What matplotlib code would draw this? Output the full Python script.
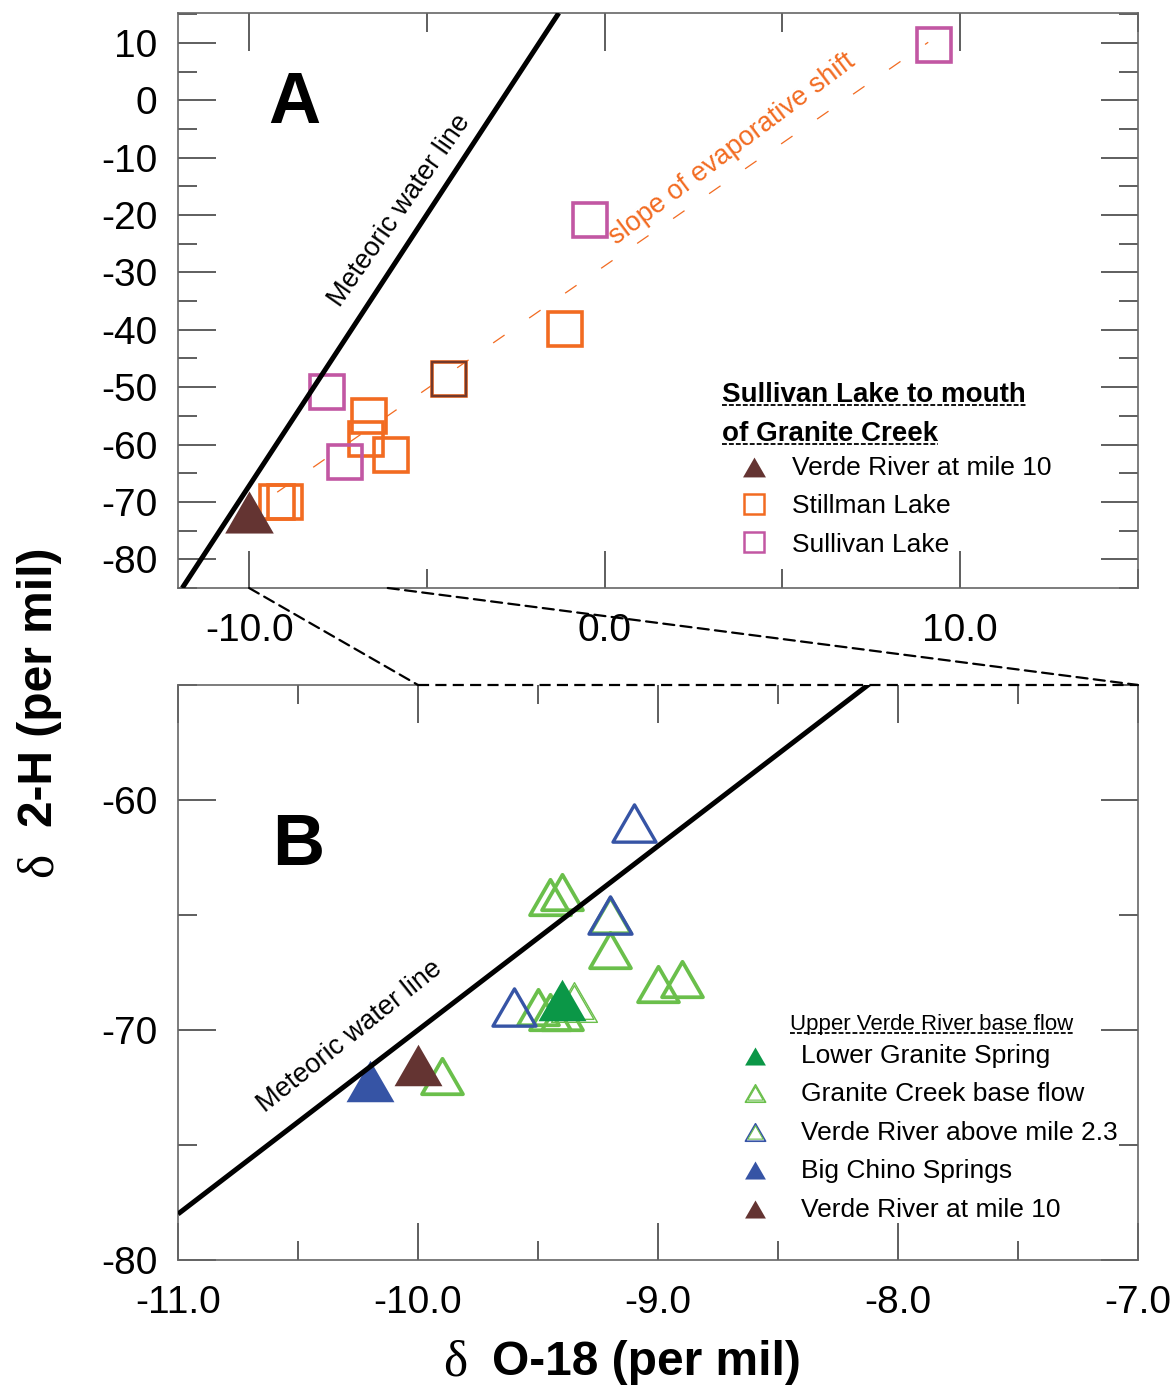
import numpy as np
import matplotlib
matplotlib.use("Agg")
import matplotlib.pyplot as plt
from matplotlib.path import Path
from matplotlib.markers import MarkerStyle
from matplotlib.patches import ConnectionPatch
from matplotlib.ticker import MultipleLocator, FormatStrFormatter

plt.rcParams['font.family'] = ['Liberation Sans', 'DejaVu Sans']
plt.rcParams['axes.unicode_minus'] = False
plt.rcParams['lines.scale_dashes'] = False

# ---- panel A data (delta O-18, delta 2-H) ----
mwl_a_x = [-11.88, -1.29]
mwl_a_y = [-85.0, 15.2]
evap_x = [-9.21, 9.10]
evap_y = [-68.3, 10.1]
stillman_x = [-9.21, -8.99, -6.63, -6.71, -6.01, -4.38, -1.11]
stillman_y = [-70.0, -70.0, -55.0, -59.0, -61.9, -48.6, -39.9]
stillman_dark_x = [-4.38]
stillman_dark_y = [-48.6]
sullivan_x = [-7.81, -7.30, -0.42, 9.27]
sullivan_y = [-50.9, -63.0, -20.9, 9.6]
verde10_a_x = [-10.0]
verde10_a_y = [-71.7]

# ---- panel B data ----
mwl_b_x = [-11.0, -8.0]
mwl_b_y = [-78.0, -54.0]
granite_x = [-9.45, -9.40, -9.20, -9.20, -9.00, -8.90, -9.50, -9.45, -9.40, -9.90]
granite_y = [-64.2, -64.0, -65.0, -66.5, -68.0, -67.8, -69.0, -69.2, -69.2, -72.0]
granite_thin_x = [-9.35]
granite_thin_y = [-68.8]
verde23_x = [-9.10, -9.20, -9.60]
verde23_y = [-61.0, -65.0, -69.0]
lower_granite_x = [-9.40]
lower_granite_y = [-68.7]
big_chino_x = [-10.20]
big_chino_y = [-72.2]
verde10_b_x = [-10.00]
verde10_b_y = [-71.5]

brown = '#643432'
orange = '#f26b21'
pink = '#c257a3'
dark_sq = '#74392a'
green_fill = '#0b9747'
green_line = '#6abf4b'
blue = '#3654a5'

W, H = 1174, 1391


def fx(px):
    return px / W


def fy(py):
    return 1 - py / H


tri_path = Path([(-1, -0.866), (1, -0.866), (0, 0.866), (-1, -0.866)],
                [Path.MOVETO, Path.LINETO, Path.LINETO, Path.CLOSEPOLY])
tri = MarkerStyle(tri_path, joinstyle='miter')

fig = plt.figure(figsize=(W / 100, H / 100), dpi=100)
axA = fig.add_axes([fx(178), fy(588), (1138 - 178) / W, (588 - 13) / H])
axB = fig.add_axes([fx(178), fy(1260), (1138 - 178) / W, (1260 - 685) / H])


def style_axis(ax):
    for s in ax.spines.values():
        s.set_color('#666666')
        s.set_linewidth(1.2)
    ax.tick_params(which='both', direction='in', top=True, right=True,
                   color='#333333', width=1.1, labelsize=28)
    ax.tick_params(which='major', length=27)
    ax.tick_params(which='minor', length=13.5)
    ax.tick_params(axis='x', pad=18)
    ax.tick_params(axis='y', pad=15)


# ---------------- panel A ----------------
axA.set_xlim(-12, 15)
axA.set_ylim(-85, 15.2)
axA.xaxis.set_major_locator(MultipleLocator(10))
axA.xaxis.set_minor_locator(MultipleLocator(5))
axA.yaxis.set_major_locator(MultipleLocator(10))
axA.yaxis.set_minor_locator(MultipleLocator(5))
axA.xaxis.set_major_formatter(FormatStrFormatter('%.1f'))
axA.yaxis.set_major_formatter(FormatStrFormatter('%d'))
axA.set_yticks(np.arange(-80, 11, 10))
style_axis(axA)

axA.plot(evap_x, evap_y, color=orange, lw=0.9, dashes=(10, 21.5), zorder=2)
axA.plot(stillman_x, stillman_y, ls='none', marker='s', ms=24.5, mfc='none',
         mec=orange, mew=2.6, zorder=3)
axA.plot(stillman_dark_x, stillman_dark_y, ls='none', marker='s', ms=24.5, mfc='none',
         mec=dark_sq, mew=1.7, zorder=3)
axA.plot(sullivan_x, sullivan_y, ls='none', marker='s', ms=24.5, mfc='none',
         mec=pink, mew=2.6, zorder=3)
axA.plot(verde10_a_x, verde10_a_y, ls='none', marker=tri, ms=35, mfc=brown,
         mew=0, zorder=3)
axA.plot(mwl_a_x, mwl_a_y, color='black', lw=3.6, solid_capstyle='butt', zorder=4)

fig.text(fx(268), fy(123), 'A', fontsize=52, fontweight='bold', ha='left', va='baseline')
fig.text(fx(400), fy(211), 'Meteoric water line', fontsize=19.5, rotation=55,
         rotation_mode='anchor', ha='center', va='center')
fig.text(fx(732), fy(149), 'slope of evaporative shift', fontsize=19.5, color=orange,
         rotation=37, rotation_mode='anchor', ha='center', va='center')

# ---------------- panel B ----------------
axB.set_xlim(-11, -7)
axB.set_ylim(-80, -55)
axB.xaxis.set_major_locator(MultipleLocator(1))
axB.xaxis.set_minor_locator(MultipleLocator(0.5))
axB.yaxis.set_major_locator(MultipleLocator(10))
axB.yaxis.set_minor_locator(MultipleLocator(5))
axB.xaxis.set_major_formatter(FormatStrFormatter('%.1f'))
axB.yaxis.set_major_formatter(FormatStrFormatter('%d'))
style_axis(axB)
axB.spines['top'].set_visible(False)
axB.plot([-11, -10], [-55, -55], color='#666666', lw=1.2, clip_on=False, zorder=5)
axB.plot([-10, -7], [-55, -55], color='black', lw=1.6, dashes=(8, 4.5),
         clip_on=False, zorder=5)

axB.plot(granite_x, granite_y, ls='none', marker=tri, ms=29.5, mfc='none',
         mec=green_line, mew=2.7, zorder=3)
axB.plot(granite_thin_x, granite_thin_y, ls='none', marker=tri, ms=33, mfc='none',
         mec=green_line, mew=1.0, zorder=3)
axB.plot(granite_thin_x, granite_thin_y, ls='none', marker=tri, ms=28, mfc='none',
         mec=green_line, mew=1.0, zorder=3)
axB.plot(verde23_x, verde23_y, ls='none', marker=tri, ms=31, mfc='none',
         mec=blue, mew=2.4, zorder=3)
axB.plot(lower_granite_x, lower_granite_y, ls='none', marker=tri, ms=34.5,
         mfc=green_fill, mew=0, zorder=3)
axB.plot(big_chino_x, big_chino_y, ls='none', marker=tri, ms=34.5,
         mfc=blue, mew=0, zorder=3)
axB.plot(verde10_b_x, verde10_b_y, ls='none', marker=tri, ms=34.5,
         mfc=brown, mew=0, zorder=3)
axB.plot(mwl_b_x, mwl_b_y, color='black', lw=3.6, solid_capstyle='butt', zorder=4)

fig.text(fx(272), fy(865), 'B', fontsize=52, fontweight='bold', ha='left', va='baseline')
fig.text(fx(350), fy(1037), 'Meteoric water line', fontsize=19.5, rotation=38.5,
         rotation_mode='anchor', ha='center', va='center')

# connector between panels
for xa, xb in [(-10.0, -10.0), (-6.1, -7.0)]:
    con = ConnectionPatch(xyA=(xa, -85), coordsA=axA.transData,
                          xyB=(xb, -55), coordsB=axB.transData,
                          color='black', lw=1.6, ls=(0, (8, 4.5)))
    fig.add_artist(con)

# ---------------- legends ----------------
def underline(txt, y_px):
    fig.canvas.draw()
    bb = txt.get_window_extent()
    fig.add_artist(plt.Line2D([bb.x0 / W, bb.x1 / W], [fy(y_px), fy(y_px)],
                              color='black', lw=1.3, ls=(0, (3.5, 1.5)),
                              transform=fig.transFigure))


t1 = fig.text(fx(722), fy(402), 'Sullivan Lake to mouth', fontsize=20,
              fontweight='bold', ha='left', va='baseline')
underline(t1, 405)
t2 = fig.text(fx(722), fy(441), 'of Granite Creek', fontsize=20,
              fontweight='bold', ha='left', va='baseline')
underline(t2, 444)

legA = [
    ('Verde River at mile 10', 467, 475, dict(marker=tri, ms=16.5, mfc=brown, mew=0)),
    ('Stillman Lake', 504, 513, dict(marker='s', ms=15, mfc='none', mec=orange, mew=1.8)),
    ('Sullivan Lake', 542, 552, dict(marker='s', ms=15, mfc='none', mec=pink, mew=1.8)),
]
for label, my, ty, kw in legA:
    fig.add_artist(plt.Line2D([fx(754)], [fy(my)], ls='none',
                              transform=fig.transFigure, **kw))
    fig.text(fx(792), fy(ty), label, fontsize=19, ha='left', va='baseline')

t3 = fig.text(fx(790), fy(1030), 'Upper Verde River base flow', fontsize=16,
              ha='left', va='baseline')
underline(t3, 1033)

legB = [
    ('Lower Granite Spring', 1056, 1063,
     [dict(marker=tri, ms=15, mfc=green_fill, mew=0)]),
    ('Granite Creek base flow', 1093, 1101,
     [dict(marker=tri, ms=14.5, mfc='none', mec=green_line, mew=1.2),
      dict(marker=tri, ms=11, mfc='none', mec=green_line, mew=0.8)]),
    ('Verde River above mile 2.3', 1132, 1140,
     [dict(marker=tri, ms=14.5, mfc='none', mec=blue, mew=1.2),
      dict(marker=tri, ms=11, mfc='none', mec=green_line, mew=0.8)]),
    ('Big Chino Springs', 1170, 1178,
     [dict(marker=tri, ms=15, mfc=blue, mew=0)]),
    ('Verde River at mile 10', 1209, 1217,
     [dict(marker=tri, ms=15, mfc=brown, mew=0)]),
]
for label, my, ty, kws in legB:
    for kw in kws:
        fig.add_artist(plt.Line2D([fx(755)], [fy(my)], ls='none',
                                  transform=fig.transFigure, **kw))
    fig.text(fx(801), fy(ty), label, fontsize=19, ha='left', va='baseline')

# ---------------- axis labels ----------------
fig.text(fx(443), fy(1375), 'δ', family='Liberation Serif', fontsize=37,
         ha='left', va='baseline')
fig.text(fx(492), fy(1375), 'O-18 (per mil)', fontsize=34.5, fontweight='bold',
         ha='left', va='baseline')
fig.text(fx(52), fy(877), 'δ', family='Liberation Serif', fontsize=37, rotation=90,
         rotation_mode='anchor', ha='left', va='baseline')
fig.text(fx(52), fy(827), '2-H (per mil)', fontsize=34.5, fontweight='bold', rotation=90,
         rotation_mode='anchor', ha='left', va='baseline')

fig.savefig('out.png', dpi=100)
